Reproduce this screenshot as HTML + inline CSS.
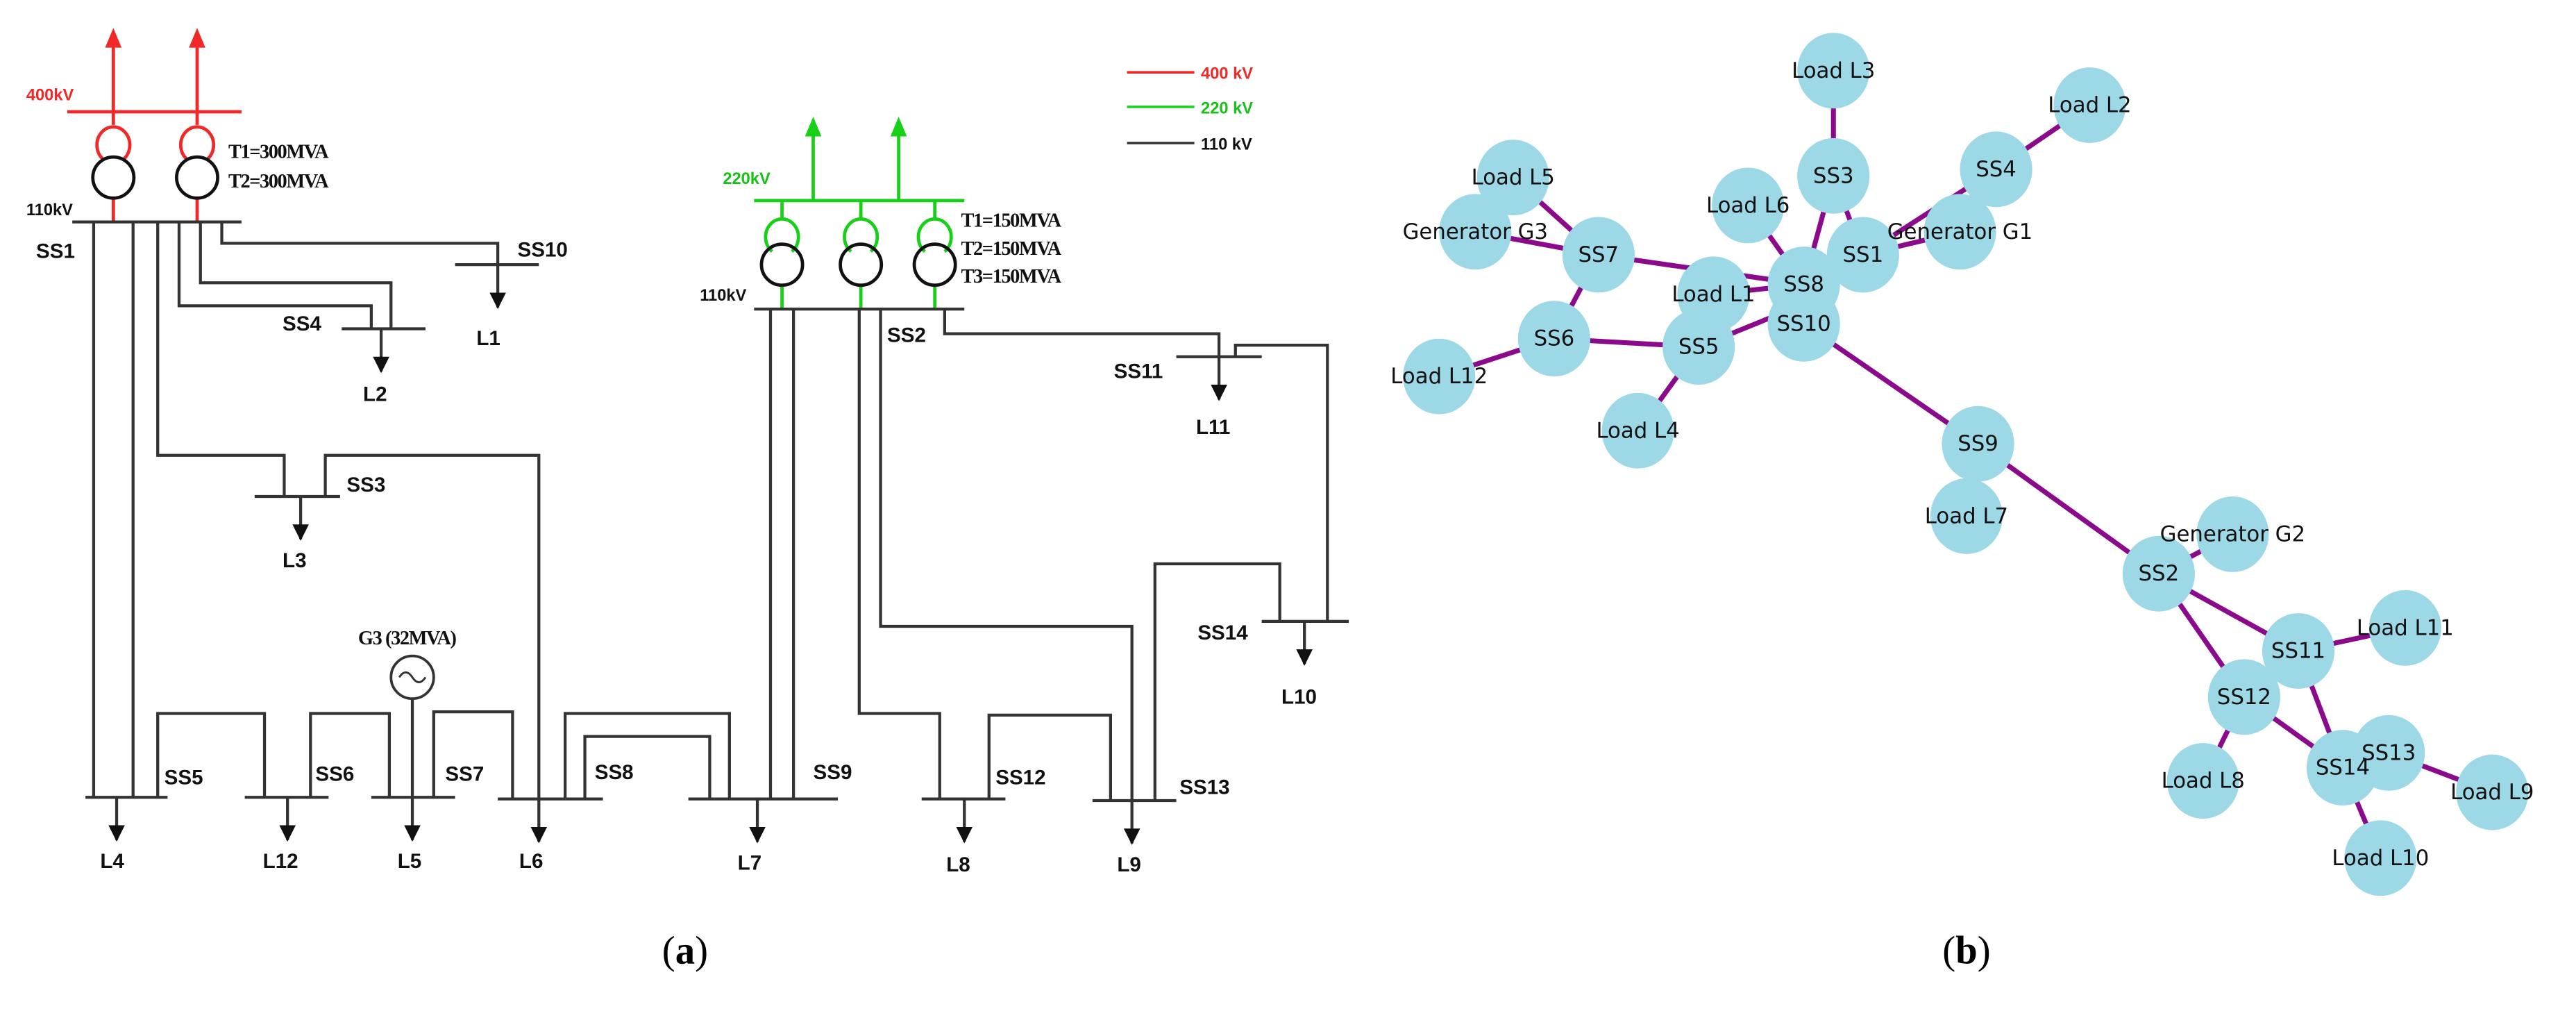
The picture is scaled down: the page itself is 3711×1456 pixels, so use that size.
<!DOCTYPE html>
<html><head><meta charset="utf-8"><style>
html,body{margin:0;padding:0;background:#fff;}
svg{display:block;}
.b{font-family:"Liberation Sans",sans-serif;font-weight:bold;font-size:12.5px;fill:#111;}
.s{font-family:"Liberation Serif",serif;font-weight:bold;font-size:12px;fill:#111;letter-spacing:-0.6px;}
.n{font-family:"DejaVu Sans","Liberation Sans",sans-serif;font-size:13px;fill:#111;text-anchor:middle;dominant-baseline:central;}
.k{stroke:#333;stroke-width:1.8;fill:none;}
.e{stroke:#8b0a8b;stroke-width:3;}
</style></head><body>
<svg width="3711" height="1456" viewBox="0 0 1568 615" preserveAspectRatio="none" xmlns="http://www.w3.org/2000/svg">
<defs>
<marker id="ak" markerWidth="10" markerHeight="10" refX="9" refY="5" orient="auto" markerUnits="userSpaceOnUse" viewBox="0 0 10 10"><path d="M0,0 L10,5 L0,10 z" fill="#111"/></marker>
</defs>
<rect width="1568" height="615" fill="#fff"/>
<!-- red 400kV -->
<g stroke="#f02828" stroke-width="2" fill="none">
<line x1="41" y1="68" x2="147" y2="68"/>
<line x1="69" y1="24" x2="69" y2="76"/><line x1="120" y1="24" x2="120" y2="76"/>
<path d="M63,97 A10,11 0 1 1 75,97"/><path d="M114,97 A10,11 0 1 1 126,97"/>
<line x1="69" y1="120" x2="69" y2="135"/><line x1="120" y1="120" x2="120" y2="135"/>
</g>
<polygon points="64,29 74,29 69,17" fill="#f02828"/><polygon points="115,29 125,29 120,17" fill="#f02828"/>
<circle cx="69" cy="108" r="12.5" fill="none" stroke="#111" stroke-width="2"/>
<circle cx="120" cy="108" r="12.5" fill="none" stroke="#111" stroke-width="2"/>
<text x="16" y="61" class="b" style="font-size:10px;fill:#f02828">400kV</text>
<text x="16" y="131" class="b" style="font-size:10px">110kV</text>
<text x="139" y="96" class="s">T1=300MVA</text>
<text x="139" y="114" class="s">T2=300MVA</text>
<!-- green 220kV -->
<g stroke="#18d018" stroke-width="2" fill="none">
<line x1="459" y1="122" x2="587" y2="122"/>
<line x1="495" y1="80" x2="495" y2="122"/><line x1="547" y1="80" x2="547" y2="122"/>
<line x1="476" y1="122" x2="476" y2="134"/><line x1="524" y1="122" x2="524" y2="134"/><line x1="569" y1="122" x2="569" y2="134"/>
<path d="M470,153 A10,11 0 1 1 482,153"/><path d="M518,153 A10,11 0 1 1 530,153"/><path d="M563,153 A10,11 0 1 1 575,153"/>
<line x1="476" y1="174" x2="476" y2="188"/><line x1="524" y1="174" x2="524" y2="188"/><line x1="569" y1="174" x2="569" y2="188"/>
</g>
<polygon points="490,83 500,83 495,71" fill="#18d018"/><polygon points="542,83 552,83 547,71" fill="#18d018"/>
<circle cx="476" cy="161" r="12.5" fill="none" stroke="#111" stroke-width="2"/>
<circle cx="524" cy="161" r="12.5" fill="none" stroke="#111" stroke-width="2"/>
<circle cx="569" cy="161" r="12.5" fill="none" stroke="#111" stroke-width="2"/>
<text x="440" y="112" class="b" style="font-size:10px;fill:#18c018">220kV</text>
<text x="426" y="183" class="b" style="font-size:10px">110kV</text>
<text x="585" y="138" class="s">T1=150MVA</text>
<text x="585" y="155" class="s">T2=150MVA</text>
<text x="585" y="172" class="s">T3=150MVA</text>
<!-- legend -->
<line x1="686" y1="44" x2="727" y2="44" stroke="#f02828" stroke-width="1.5"/>
<line x1="686" y1="65" x2="727" y2="65" stroke="#18d018" stroke-width="1.5"/>
<line x1="686" y1="87" x2="727" y2="87" stroke="#333" stroke-width="1.5"/>
<text x="731" y="48" class="b" style="font-size:10px;fill:#f02828">400 kV</text>
<text x="731" y="69" class="b" style="font-size:10px;fill:#18c018">220 kV</text>
<text x="731" y="91" class="b" style="font-size:10px">110 kV</text>
<!-- black network -->
<g class="k">
<line x1="44" y1="135" x2="147" y2="135"/>
<line x1="57" y1="135" x2="57" y2="485"/><line x1="81" y1="135" x2="81" y2="485"/>
<polyline points="96,135 96,277 173,277 173,302"/>
<line x1="155" y1="302" x2="207" y2="302"/>
<polyline points="198,302 198,277 328,277 328,486"/>
<polyline points="109,135 109,186 226,186 226,200"/>
<polyline points="122,135 122,172 238,172 238,200"/>
<line x1="208" y1="200" x2="259" y2="200"/>
<polyline points="135,135 135,148 303,148 303,161"/>
<line x1="277" y1="161" x2="328" y2="161"/>
<line x1="52" y1="485" x2="102" y2="485"/>
<polyline points="96,485 96,434 161,434 161,485"/>
<line x1="149" y1="485" x2="200" y2="485"/>
<polyline points="189,485 189,434 237,434 237,485"/>
<line x1="226" y1="485" x2="277" y2="485"/>
<line x1="251" y1="425" x2="251" y2="485"/>
<polyline points="264,485 264,433 312,433 312,486"/>
<line x1="303" y1="486" x2="367" y2="486"/>
<polyline points="344,486 344,434 444,434 444,486"/>
<polyline points="356,486 356,448 432,448 432,486"/>
<line x1="419" y1="486" x2="510" y2="486"/>
<line x1="459" y1="188" x2="587" y2="188"/>
<line x1="469" y1="188" x2="469" y2="486"/><line x1="483" y1="188" x2="483" y2="486"/>
<polyline points="523,188 523,434 572,434 572,486"/>
<line x1="561" y1="486" x2="612" y2="486"/>
<polyline points="602,486 602,435 676,435 676,487"/>
<polyline points="536,188 536,381 689,381 689,487"/>
<line x1="665" y1="487" x2="716" y2="487"/>
<polyline points="575,188 575,203 742,203 742,217"/>
<line x1="716" y1="217" x2="768" y2="217"/>
<polyline points="752,217 752,210 808,210 808,378"/>
<polyline points="703,487 703,343 779,343 779,378"/>
<line x1="768" y1="378" x2="821" y2="378"/>
<line x1="303" y1="161" x2="303" y2="187" marker-end="url(#ak)"/>
<line x1="232" y1="200" x2="232" y2="226" marker-end="url(#ak)"/>
<line x1="183" y1="302" x2="183" y2="328" marker-end="url(#ak)"/>
<line x1="71" y1="485" x2="71" y2="511" marker-end="url(#ak)"/>
<line x1="175" y1="485" x2="175" y2="511" marker-end="url(#ak)"/>
<line x1="251" y1="485" x2="251" y2="511" marker-end="url(#ak)"/>
<line x1="328" y1="486" x2="328" y2="512" marker-end="url(#ak)"/>
<line x1="461" y1="486" x2="461" y2="512" marker-end="url(#ak)"/>
<line x1="587" y1="486" x2="587" y2="512" marker-end="url(#ak)"/>
<line x1="689" y1="487" x2="689" y2="513" marker-end="url(#ak)"/>
<line x1="742" y1="217" x2="742" y2="243" marker-end="url(#ak)"/>
<line x1="794" y1="378" x2="794" y2="404" marker-end="url(#ak)"/>
</g>
<circle cx="251" cy="412" r="13" fill="#fff" stroke="#333" stroke-width="1.6"/>
<path d="M243,412 q4,-6 8,0 t8,0" fill="none" stroke="#333" stroke-width="1.2"/>
<text x="218" y="392" class="s">G3 (32MVA)</text>
<g class="b">
<text x="22" y="157">SS1</text><text x="315" y="156">SS10</text><text x="172" y="201">SS4</text>
<text x="211" y="299">SS3</text><text x="100" y="477">SS5</text><text x="192" y="475">SS6</text>
<text x="271" y="475">SS7</text><text x="362" y="474">SS8</text><text x="495" y="474">SS9</text>
<text x="540" y="208">SS2</text><text x="606" y="477">SS12</text><text x="718" y="483">SS13</text>
<text x="678" y="230">SS11</text><text x="729" y="389">SS14</text>
<text x="290" y="210">L1</text><text x="221" y="244">L2</text><text x="172" y="345">L3</text>
<text x="61" y="528">L4</text><text x="160" y="528">L12</text><text x="242" y="528">L5</text>
<text x="316" y="528">L6</text><text x="449" y="529">L7</text><text x="576" y="530">L8</text>
<text x="680" y="530">L9</text><text x="728" y="264">L11</text><text x="780" y="428">L10</text>
</g>
<text x="417" y="586" text-anchor="middle" style="font-family:'Liberation Serif',serif;font-size:24px">(<tspan font-weight="bold">a</tspan>)</text>
<text x="1197" y="586" text-anchor="middle" style="font-family:'Liberation Serif',serif;font-size:24px">(<tspan font-weight="bold">b</tspan>)</text>
<g class="e">
<line x1="1116" y1="43" x2="1116" y2="107"/>
<line x1="1116" y1="107" x2="1098" y2="173"/>
<line x1="1116" y1="107" x2="1134" y2="155"/>
<line x1="1272" y1="64" x2="1215" y2="103"/>
<line x1="1215" y1="103" x2="1134" y2="155"/>
<line x1="1193" y1="141" x2="1134" y2="155"/>
<line x1="1064" y1="125" x2="1098" y2="173"/>
<line x1="921" y1="108" x2="973" y2="155"/>
<line x1="898" y1="141" x2="973" y2="155"/>
<line x1="973" y1="155" x2="1098" y2="173"/>
<line x1="973" y1="155" x2="946" y2="206"/>
<line x1="946" y1="206" x2="876" y2="229"/>
<line x1="946" y1="206" x2="1034" y2="211"/>
<line x1="1034" y1="211" x2="1098" y2="185"/>
<line x1="1034" y1="211" x2="997" y2="262"/>
<line x1="1043" y1="179" x2="1098" y2="173"/>
<line x1="1098" y1="197" x2="1204" y2="270"/>
<line x1="1204" y1="270" x2="1314" y2="349"/>
<line x1="1314" y1="349" x2="1359" y2="325"/>
<line x1="1314" y1="349" x2="1399" y2="396"/>
<line x1="1314" y1="349" x2="1366" y2="424"/>
<line x1="1399" y1="396" x2="1464" y2="382"/>
<line x1="1399" y1="396" x2="1426" y2="467"/>
<line x1="1366" y1="424" x2="1426" y2="467"/>
<line x1="1366" y1="424" x2="1341" y2="475"/>
<line x1="1454" y1="458" x2="1517" y2="482"/>
<line x1="1426" y1="467" x2="1449" y2="522"/>
<line x1="1426" y1="467" x2="1454" y2="458"/>
</g>
<g fill="#9dd8e6">
<ellipse cx="1116" cy="43" rx="22" ry="23"/><ellipse cx="1272" cy="64" rx="22" ry="23"/>
<ellipse cx="1116" cy="107" rx="22" ry="23"/><ellipse cx="1215" cy="103" rx="22" ry="23"/>
<ellipse cx="1064" cy="125" rx="22" ry="23"/><ellipse cx="921" cy="108" rx="22" ry="23"/>
<ellipse cx="898" cy="141" rx="22" ry="23"/><ellipse cx="973" cy="155" rx="22" ry="23"/>
<ellipse cx="1193" cy="141" rx="22" ry="23"/><ellipse cx="1134" cy="155" rx="22" ry="23"/>
<ellipse cx="1043" cy="179" rx="22" ry="23"/><ellipse cx="1098" cy="173" rx="22" ry="23"/>
<ellipse cx="1098" cy="197" rx="22" ry="23"/><ellipse cx="946" cy="206" rx="22" ry="23"/>
<ellipse cx="1034" cy="211" rx="22" ry="23"/><ellipse cx="876" cy="229" rx="22" ry="23"/>
<ellipse cx="997" cy="262" rx="22" ry="23"/><ellipse cx="1204" cy="270" rx="22" ry="23"/>
<ellipse cx="1197" cy="314" rx="22" ry="23"/><ellipse cx="1359" cy="325" rx="22" ry="23"/>
<ellipse cx="1314" cy="349" rx="22" ry="23"/><ellipse cx="1464" cy="382" rx="22" ry="23"/>
<ellipse cx="1399" cy="396" rx="22" ry="23"/><ellipse cx="1366" cy="424" rx="22" ry="23"/>
<ellipse cx="1454" cy="458" rx="22" ry="23"/><ellipse cx="1426" cy="467" rx="22" ry="23"/>
<ellipse cx="1341" cy="475" rx="22" ry="23"/><ellipse cx="1517" cy="482" rx="22" ry="23"/>
<ellipse cx="1449" cy="522" rx="22" ry="23"/>
</g>
<g class="n">
<text x="1116" y="43">Load L3</text><text x="1272" y="64">Load L2</text>
<text x="1116" y="107">SS3</text><text x="1215" y="103">SS4</text>
<text x="1064" y="125">Load L6</text><text x="921" y="108">Load L5</text>
<text x="898" y="141">Generator G3</text><text x="973" y="155">SS7</text>
<text x="1193" y="141">Generator G1</text><text x="1134" y="155">SS1</text>
<text x="1043" y="179">Load L1</text><text x="1098" y="173">SS8</text>
<text x="1098" y="197">SS10</text><text x="946" y="206">SS6</text>
<text x="1034" y="211">SS5</text><text x="876" y="229">Load L12</text>
<text x="997" y="262">Load L4</text><text x="1204" y="270">SS9</text>
<text x="1197" y="314">Load L7</text><text x="1359" y="325">Generator G2</text>
<text x="1314" y="349">SS2</text><text x="1464" y="382">Load L11</text>
<text x="1399" y="396">SS11</text><text x="1366" y="424">SS12</text>
<text x="1454" y="458">SS13</text><text x="1426" y="467">SS14</text>
<text x="1341" y="475">Load L8</text><text x="1517" y="482">Load L9</text>
<text x="1449" y="522">Load L10</text>
</g>
</svg>
</body></html>
